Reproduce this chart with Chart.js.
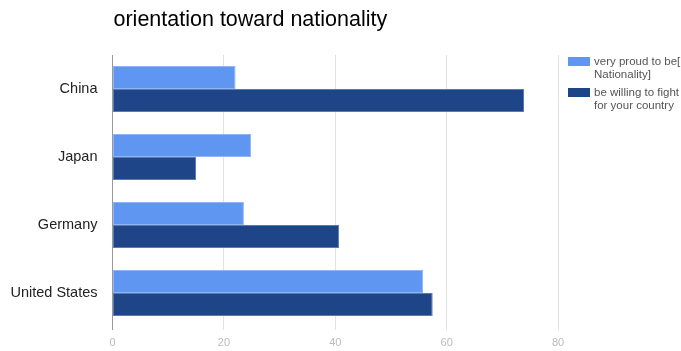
<!DOCTYPE html>
<html>
<head>
<meta charset="utf-8">
<script src="https://cdn.jsdelivr.net/npm/chart.js@4/dist/chart.umd.min.js"></script>
<style>
  html, body { margin: 0; padding: 0; background: #fff; }
  #wrap { width: 681px; height: 351px; position: relative; }
</style>
</head>
<body>
<div id="wrap"><canvas id="chart"></canvas></div>
<script>
const countries = ['China', 'Japan', 'Germany', 'United States'];
const proudValues = [22.1, 24.9, 23.6, 55.8];
const fightValues = [73.9, 15.0, 40.7, 57.5];
const seriesNames = [['very proud to be[', 'Nationality]'], ['be willing to fight', 'for your country']];
const xTicks = [0, 20, 40, 60, 80];
const chartTitle = 'orientation toward nationality';

const lightBlue = '#5f96f2';
const darkBlue = '#1d4587';

// title and wrapped legend are painted by hand so they can sit where we want them
const decorations = {
    id: 'decorations',
    afterDraw(chart) {
        const ctx = chart.ctx;
        const area = chart.chartArea;
        ctx.save();
        ctx.fillStyle = '#000';
        ctx.font = '21.5px "Liberation Sans", Arial, sans-serif';
        ctx.textBaseline = 'middle';
        ctx.textAlign = 'left';
        ctx.fillText(chartTitle, area.left + 1, 20);

        ctx.font = '11.5px "Liberation Sans", Arial, sans-serif';
        chart.data.datasets.forEach((ds, i) => {
            const top = 57 + i * 31;
            ctx.fillStyle = ds.backgroundColor;
            ctx.fillRect(568, top, 22, 9);
            ctx.fillStyle = '#555';
            ds.legendLines.forEach((line, j) => {
                ctx.fillText(line, 594, top + 4.5 + j * 13.5);
            });
        });
        ctx.restore();
    }
};

new Chart(document.getElementById('chart'), {
    type: 'bar',
    data: {
        labels: countries,
        datasets: [{
            label: seriesNames[0].join(' '),
            legendLines: seriesNames[0],
            data: proudValues,
            backgroundColor: lightBlue,
            borderColor: '#8db5f7',
            borderWidth: 1,
            borderSkipped: false
        }, {
            label: seriesNames[1].join(' '),
            legendLines: seriesNames[1],
            data: fightValues,
            backgroundColor: darkBlue,
            borderColor: '#5a7bb0',
            borderWidth: 1,
            borderSkipped: false
        }]
    },
    options: {
        indexAxis: 'y',
        responsive: true,
        maintainAspectRatio: false,
        animation: false,
        layout: { padding: { left: 0, right: 123, top: 55, bottom: 0 } },
        datasets: { bar: { categoryPercentage: 0.68, barPercentage: 1 } },
        scales: {
            x: {
                min: 0,
                max: 80,
                afterBuildTicks: (scale) => { scale.ticks = xTicks.map(v => ({ value: v })); },
                afterFit: (scale) => { scale.height = 24; },
                border: { display: false },
                grid: {
                    color: (c) => c.tick && c.tick.value === 0 ? '#999' : '#e2e2e2',
                    tickLength: 3
                },
                ticks: {
                    color: '#bbb',
                    padding: 6,
                    font: { family: '"Liberation Sans", Arial, sans-serif', size: 11 }
                }
            },
            y: {
                afterFit: (scale) => { scale.width = 112.5; },
                border: { display: false },
                grid: { display: false, drawTicks: false },
                ticks: {
                    color: '#222',
                    padding: 15,
                    font: { family: '"Liberation Sans", Arial, sans-serif', size: 14.5 }
                }
            }
        },
        plugins: {
            legend: { display: false },
            title: { display: false },
            tooltip: { enabled: false }
        }
    },
    plugins: [decorations]
});
</script>
</body>
</html>
